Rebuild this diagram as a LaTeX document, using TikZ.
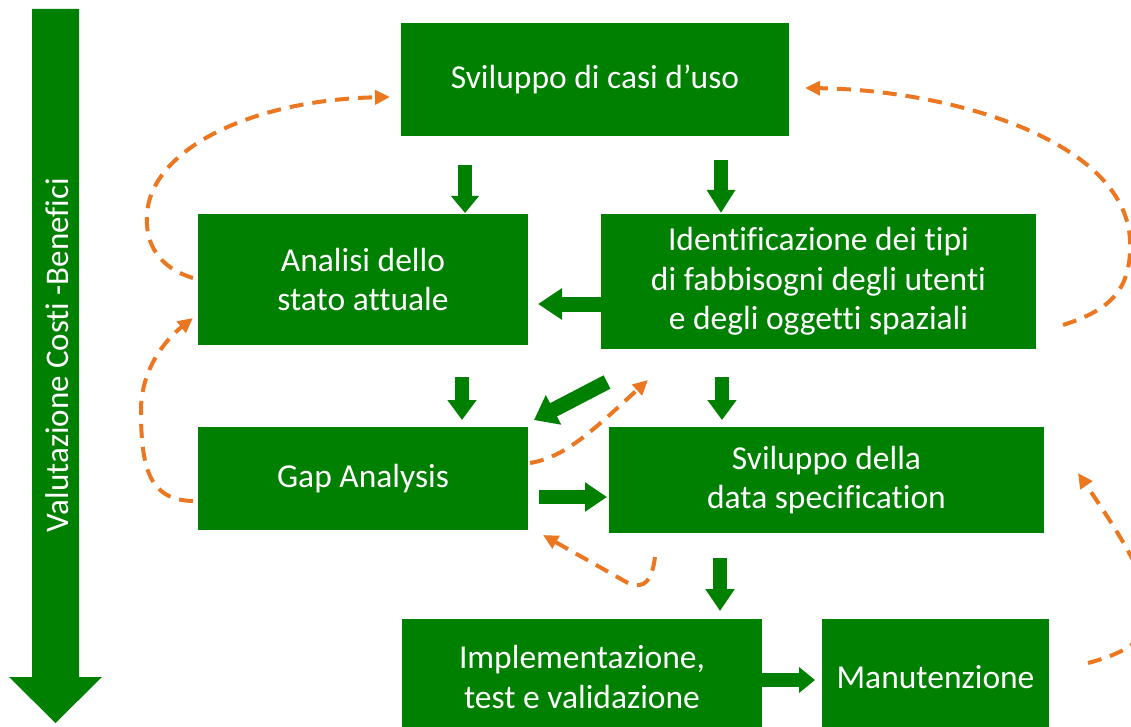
\documentclass[tikz,border=0pt]{standalone}
\usepackage{fontspec}
\setmainfont{Carlito}[Ligatures=NoCommon]
\usetikzlibrary{arrows.meta}
\definecolor{boxgreen}{RGB}{0,128,0}
\definecolor{loop}{RGB}{235,119,32}
\tikzset{
  box/.style={fill=boxgreen, text=white, align=center, inner sep=0pt,
    font=\fontsize{33.5}{39.5}\selectfont},
  flow/.style={draw=boxgreen, line width=14pt, line cap=butt},
  feedback/.style={draw=loop, line width=4pt, dash pattern=on 14pt off 9pt,
    -{Triangle[length=15pt,width=14pt]}}
}
\begin{document}
\begin{tikzpicture}[x=1pt,y=-1pt]
\useasboundingbox (0,0) rectangle (1131,727);
\begin{scope}
\clip (0,0) rectangle (1131,727);

% phase boxes
\node[box, minimum width=388pt, minimum height=113pt] (casi) at (595,79.5) {Sviluppo di casi d’uso};
\node[box, minimum width=330pt, minimum height=131pt] (analisi) at (363,279.5) {Analisi dello\\stato attuale};
\node[box, minimum width=435pt, minimum height=135pt] (ident) at (818.5,281.5) {Identificazione dei tipi\\di fabbisogni degli utenti\\e degli oggetti spaziali};
\node[box, minimum width=330pt, minimum height=103pt] (gap) at (363,478.5) {Gap Analysis};
\node[box, minimum width=435pt, minimum height=106pt] (spec) at (826.5,480) {Sviluppo della\\data specification};
\node[box, minimum width=360pt, minimum height=116pt] (impl) at (582,677) {Implementazione,\\test e validazione};
\node[box, minimum width=227pt, minimum height=116pt] (manut) at (935.5,677) {Manutenzione};

% cost-benefit axis on the left
\fill[boxgreen] (32,9) -- (79,9) -- (79,677) -- (102,677) -- (55.5,723) -- (9,677) -- (32,677) -- cycle;
\node[text=white, rotate=90, font=\fontsize{33}{38}\selectfont, inner sep=0pt] (axis) at (57,355) {Valutazione Costi -Benefici};

% main flow arrows
\coordinate (f1a) at (465,165);  \coordinate (f1b) at (465,213);
\coordinate (f2a) at (721,160);  \coordinate (f2b) at (721,213);
\coordinate (f3a) at (601,304);  \coordinate (f3b) at (538,304);
\coordinate (f4a) at (462,377);  \coordinate (f4b) at (462,420);
\coordinate (f5a) at (722,377);  \coordinate (f5b) at (722,420);
\coordinate (f6a) at (607,382);  \coordinate (f6b) at (534,420);
\coordinate (f7a) at (539,497);  \coordinate (f7b) at (607,497);
\coordinate (f8a) at (720,558);  \coordinate (f8b) at (720,611);
\coordinate (f9a) at (762,680);  \coordinate (f9b) at (815,680);
\draw[flow, -{Triangle[length=17pt,width=27pt]}] (f1a) -- (f1b);
\draw[flow, -{Triangle[length=23pt,width=27pt]}] (f2a) -- (f2b);
\draw[flow, line width=15pt, -{Triangle[length=24pt,width=30pt]}] (f3a) -- (f3b);
\draw[flow, -{Triangle[length=20pt,width=28pt]}] (f4a) -- (f4b);
\draw[flow, -{Triangle[length=20pt,width=28pt]}] (f5a) -- (f5b);
\draw[flow, line width=15pt, -{Triangle[length=22pt,width=32pt]}] (f6a) -- (f6b);
\draw[flow, -{Triangle[length=22pt,width=28pt]}] (f7a) -- (f7b);
\draw[flow, -{Triangle[length=22pt,width=28pt]}] (f8a) -- (f8b);
\draw[flow, -{Triangle[length=16pt,width=25pt]}] (f9a) -- (f9b);

% feedback loops
\coordinate (l1a) at (193,278);  \coordinate (l1b) at (390,97);
\draw[feedback] (l1a) .. controls (160,268) and (145,245) .. (147,215)
  .. controls (150,150) and (250,100) .. (l1b);
\coordinate (l2a) at (193,501);  \coordinate (l2b) at (193,318);
\draw[feedback] (l2a) .. controls (150,500) and (141,470) .. (141,410)
  .. controls (141,370) and (165,340) .. (l2b);
\coordinate (l3a) at (530,463);  \coordinate (l3b) at (648,380);
\draw[feedback] (l3a) .. controls (565,457) and (590,433) .. (l3b);
\coordinate (l4a) at (655,557);  \coordinate (l4b) at (543,535);
\draw[feedback] (l4a) .. controls (652,580) and (645,590) .. (628,583) -- (l4b);
\coordinate (l5a) at (1063,325);  \coordinate (l5b) at (805,88);
\draw[feedback] (l5a) .. controls (1110,310) and (1132,290) .. (1130,240)
  .. controls (1125,140) and (950,90) .. (l5b);
\coordinate (l6a) at (1088,663);  \coordinate (l6b) at (1078,473);
\draw[feedback] (l6a) .. controls (1175,640) and (1165,600) .. (l6b);
\end{scope}
\end{tikzpicture}
\end{document}
